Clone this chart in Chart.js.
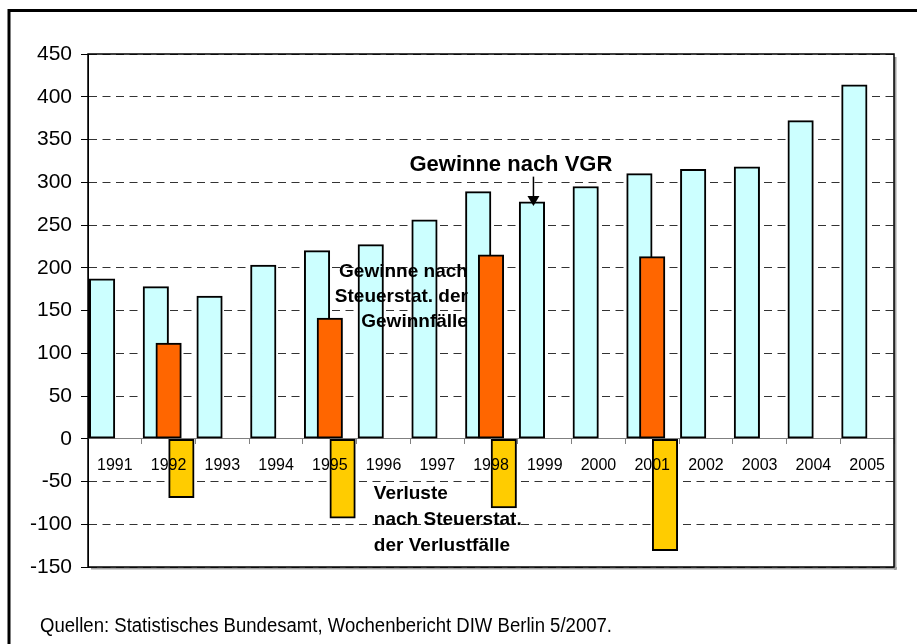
<!DOCTYPE html>
<html>
<head>
<meta charset="utf-8">
<script src="https://cdn.jsdelivr.net/npm/chart.js@4.4.1/dist/chart.umd.min.js"></script>
<style>
  html, body { margin: 0; padding: 0; background: #ffffff; }
  #wrap { width: 917px; height: 644px; position: relative; }
</style>
</head>
<body>
<div id="wrap"><canvas id="c" width="917" height="644"></canvas></div>
<script>
// ---- data ----
const years = ['1991','1992','1993','1994','1995','1996','1997','1998','1999','2000','2001','2002','2003','2004','2005'];
const gewinneVGR = [187, 178, 167, 203, 220, 227, 256, 289, 277, 295, 310, 315, 318, 372, 414];
const steuerYears = ['1992','1995','1998','2001'];
const gewinneSteuer = [112, 141, 215, 213];
const verlusteSteuer = [-69, -93, -81, -131];
const yMin = -150, yMax = 450, yStep = 50;
const labelVGR = ['Gewinne nach VGR'];
const labelGewinnSteuer = ['Gewinne nach', 'Steuerstat. der', 'Gewinnfälle'];
const labelVerlustSteuer = ['Verluste', 'nach Steuerstat.', 'der Verlustfälle'];
const footnote = 'Quellen: Statistisches Bundesamt, Wochenbericht DIW Berlin 5/2007.';

const FONT = "'Liberation Sans', Arial, sans-serif";
const firstYear = +years[0], lastYear = +years[years.length - 1];
const SHIFT = 0.238; // series offset within a category (fraction of category width)

const decor = {
  id: 'decor',
  beforeDraw(chart) {
    const ctx = chart.ctx, a = chart.chartArea;
    ctx.save();
    ctx.fillStyle = '#ffffff';
    ctx.fillRect(0, 0, chart.width, chart.height);
    // outer frame
    ctx.strokeStyle = '#000';
    ctx.lineWidth = 3;
    ctx.strokeRect(9, 10.5, chart.width + 40, chart.height + 40);
    // plot shadow
    ctx.fillStyle = '#a0a0a0';
    ctx.fillRect(a.left + 3, a.bottom, a.width, 2.5);
    ctx.fillRect(a.right, a.top + 3, 2.5, a.height);
    ctx.restore();
  },
  afterDraw(chart) {
    const ctx = chart.ctx, a = chart.chartArea;
    const xs = chart.scales.xOrange, ys = chart.scales.y, xc = chart.scales.xCyan;
    ctx.save();
    // plot border
    ctx.strokeStyle = '#000';
    ctx.lineWidth = 1.5;
    ctx.strokeRect(a.left, a.top, a.width, a.height);

    ctx.fillStyle = '#000';
    ctx.textBaseline = 'middle';
    // Gewinne nach VGR
    ctx.font = "bold 22px " + FONT;
    ctx.textAlign = 'center';
    const vx = xs.getPixelForValue(1998.37), vy = ys.getPixelForValue(320.6);
    ctx.fillText(labelVGR[0], vx, vy);
    // arrow to 1999 bar
    const idx = years.indexOf('1999');
    const ax = xc.getPixelForValue(+years[idx]) + 1.5;
    const tipY = ys.getPixelForValue(gewinneVGR[idx]) + 4;
    const topY = vy + 12;
    ctx.strokeStyle = '#000';
    ctx.lineWidth = 1.5;
    ctx.beginPath();
    ctx.moveTo(ax, topY);
    ctx.lineTo(ax, tipY - 8);
    ctx.stroke();
    ctx.beginPath();
    ctx.moveTo(ax - 6, tipY - 10);
    ctx.lineTo(ax + 6, tipY - 10);
    ctx.lineTo(ax, tipY);
    ctx.closePath();
    ctx.fill();

    // Gewinne nach Steuerstat.
    ctx.font = "bold 19px " + FONT;
    ctx.textAlign = 'right';
    let gx = xs.getPixelForValue(1997.57), gy = ys.getPixelForValue(195.7);
    labelGewinnSteuer.forEach((t, i) => ctx.fillText(t, gx, gy + i * 25));

    // Verluste
    ctx.textAlign = 'left';
    let lx = xs.getPixelForValue(1995.82), ly = ys.getPixelForValue(-63.8);
    labelVerlustSteuer.forEach((t, i) => ctx.fillText(t, lx, ly + i * 26));

    // footnote (slightly condensed, as in the source)
    ctx.font = "20px " + FONT;
    ctx.textBaseline = 'alphabetic';
    const w = ctx.measureText(footnote).width;
    ctx.translate(40, 632);
    ctx.scale(572 / w, 1);
    ctx.fillText(footnote, 0, 0);
    ctx.restore();
  }
};

const hiddenX = (shift) => ({
  type: 'linear', axis: 'x', display: false, offset: false,
  grid: { offset: false },
  min: firstYear - 0.5 + shift, max: lastYear + 0.5 + shift
});

new Chart(document.getElementById('c'), {
  type: 'bar',
  data: {
    datasets: [
      {
        label: 'Gewinne nach VGR',
        data: years.map((y, i) => ({ x: +y, y: gewinneVGR[i] })),
        xAxisID: 'xCyan', backgroundColor: '#CCFFFF', order: 3
      },
      {
        label: 'Gewinne nach Steuerstat. der Gewinnfälle',
        data: steuerYears.map((y, i) => ({ x: +y, y: gewinneSteuer[i] })),
        xAxisID: 'xOrange', backgroundColor: '#FF6600', order: 2
      },
      {
        label: 'Verluste nach Steuerstat. der Verlustfälle',
        data: steuerYears.map((y, i) => ({ x: +y, y: verlusteSteuer[i] })),
        xAxisID: 'xYellow', backgroundColor: '#FFCC00', order: 1
      }
    ]
  },
  options: {
    responsive: false,
    animation: false,
    events: [],
    layout: { padding: { left: 0, top: 54, right: 23, bottom: 77 } },
    datasets: {
      bar: {
        grouped: false, barThickness: 25.5, borderWidth: 2,
        borderColor: '#000', borderSkipped: false, yAxisID: 'y'
      }
    },
    plugins: { legend: { display: false }, tooltip: { enabled: false } },
    scales: {
      y: {
        type: 'linear', position: 'left', min: yMin, max: yMax,
        afterFit: (s) => { s.width = 88; },
        ticks: { stepSize: yStep, color: '#000', font: { family: FONT, size: 21 }, padding: 9 },
        grid: { color: '#333', lineWidth: 1, tickColor: '#000', tickLength: 7, tickBorderDash: [] },
        border: { display: true, color: '#000', width: 1, dash: [8, 5.5] }
      },
      x: {
        type: 'category', axis: 'x', labels: years, position: { y: 0 }, offset: true,
        grid: { offset: true, drawOnChartArea: false, drawTicks: true, tickLength: 5, tickColor: '#808080', color: '#808080' },
        border: { display: true, color: '#808080', width: 1 },
        ticks: { display: false }
      },
      xLabels: {
        type: 'category', axis: 'x', labels: years, position: { y: 0 }, offset: true,
        grid: { offset: true, drawOnChartArea: false, drawTicks: true, tickLength: 5, tickColor: 'rgba(0,0,0,0)', color: 'rgba(0,0,0,0)', z: 1 },
        border: { display: false, z: 1 },
        ticks: { z: 1, color: '#000', font: { family: FONT, size: 16 }, padding: 12, maxRotation: 0, autoSkip: false }
      },
      xCyan: hiddenX(SHIFT),
      xOrange: hiddenX(0),
      xYellow: hiddenX(-SHIFT)
    }
  },
  plugins: [decor]
});
</script>
</body>
</html>
